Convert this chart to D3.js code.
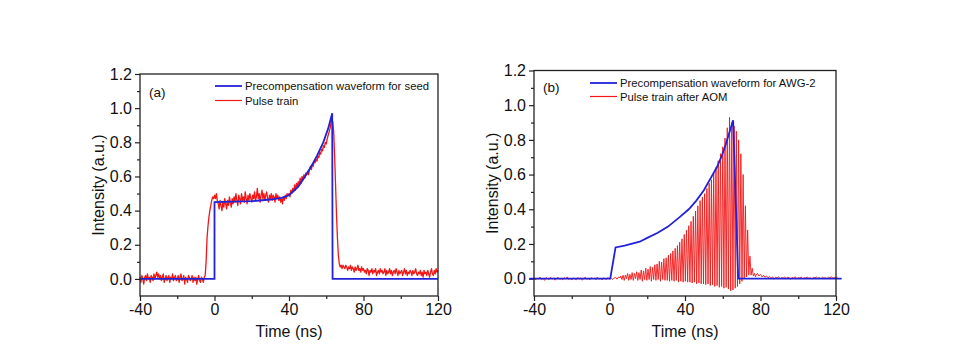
<!DOCTYPE html>
<html>
<head>
<meta charset="utf-8">
<script src="https://cdn.jsdelivr.net/npm/d3@7"></script>
<style>
  body { margin: 0; background: #fff; }
  svg { display: block; font-family: "Liberation Sans", Arial, sans-serif; }
</style>
</head>
<body>
<svg id="chart" width="964" height="354"></svg>
<script>
// ---- datos ----
const xTicks = [-40, 0, 40, 80, 120];
const xMinor = [-20, 20, 60, 100];
const yTicks = [0.0, 0.2, 0.4, 0.6, 0.8, 1.0, 1.2];
const yMinor = [0.1, 0.3, 0.5, 0.7, 0.9, 1.1];

const legendA = ["Precompensation waveform for seed", "Pulse train"];
const legendB = ["Precompensation waveform for AWG-2", "Pulse train after AOM"];

// (a) forma de onda de precompensación (seed)
const seedT = [-40, 0, 0, 20, 30, 36, 40, 45, 48.6, 52, 55, 58.4, 61, 63.2, 63.4, 120];
const seedV = [0, 0, 0.45, 0.455, 0.465, 0.475, 0.49, 0.54, 0.6, 0.66, 0.72, 0.8, 0.88, 0.97, 0, 0];

// (a) tren de pulsos, muestreado cada 0.5 ns desde -40 ns
const trainAStart = -40, trainAStep = 0.5;
const trainA = [
  0.01,-0.02,0.02,0.00,-0.03,0.01,0.02,-0.01,0.03,0.00,0.01,-0.02,0.02,0.01,-0.01,0.03,0.00,0.02,0.04,0.01,
  0.03,0.00,0.02,-0.01,0.01,0.03,-0.02,0.00,0.02,-0.01,0.01,0.02,-0.02,0.01,0.00,0.03,-0.01,0.01,0.02,-0.01,
  0.00,0.02,-0.02,0.01,0.03,-0.01,0.00,0.02,-0.03,0.01,0.00,-0.02,0.02,0.01,-0.01,0.00,0.02,-0.02,0.01,-0.01,
  0.01,-0.03,0.00,0.02,-0.01,-0.02,0.01,0.00,-0.02,0.01,0.02,0.10,0.24,0.31,0.36,0.40,0.43,0.46,0.48,0.47,
  0.49,0.47,0.50,0.46,0.44,0.41,0.46,0.43,0.40,0.45,0.42,0.47,0.44,0.41,0.46,0.43,0.48,0.45,0.42,0.47,
  0.44,0.48,0.45,0.50,0.46,0.43,0.49,0.47,0.44,0.50,0.46,0.48,0.45,0.51,0.47,0.44,0.49,0.46,0.50,0.47,
  0.45,0.49,0.47,0.51,0.46,0.48,0.53,0.47,0.50,0.45,0.49,0.52,0.47,0.50,0.46,0.49,0.51,0.47,0.45,0.49,
  0.47,0.50,0.46,0.49,0.48,0.45,0.50,0.47,0.49,0.46,0.48,0.45,0.47,0.44,0.48,0.46,0.49,0.47,0.50,0.49,
  0.50,0.48,0.52,0.50,0.53,0.51,0.55,0.52,0.56,0.54,0.57,0.55,0.59,0.56,0.60,0.58,0.61,0.59,0.62,0.61,
  0.63,0.61,0.64,0.66,0.64,0.67,0.66,0.69,0.68,0.70,0.69,0.72,0.71,0.74,0.73,0.76,0.75,0.78,0.77,0.80,
  0.79,0.82,0.84,0.86,0.88,0.91,0.93,0.92,0.86,0.72,0.55,0.38,0.24,0.14,0.09,0.07,0.08,0.06,0.08,0.07,
  0.06,0.08,0.07,0.05,0.07,0.06,0.08,0.05,0.07,0.06,0.04,0.07,0.05,0.06,0.08,0.05,0.06,0.04,0.07,0.05,
  0.06,0.04,0.05,0.03,0.06,0.05,0.02,0.05,0.04,0.06,0.03,0.05,0.04,0.06,0.02,0.04,0.05,0.03,0.06,0.04,
  0.05,0.03,0.04,0.06,0.02,0.05,0.03,0.04,0.06,0.03,0.05,0.02,0.04,0.05,0.03,0.06,0.04,0.02,0.05,0.03,
  0.04,0.05,0.02,0.04,0.06,0.03,0.05,0.02,0.04,0.03,0.05,0.04,0.02,0.05,0.03,0.04,0.06,0.03,0.02,0.04,
  0.03,0.05,0.02,0.04,0.01,0.05,0.03,0.04,0.02,0.05,0.03,0.01,0.04,0.06,0.03,0.02,0.05,0.03,0.06,0.04,
  0.05
];

// (b) forma de onda de precompensación (AWG-2)
const awgT = [-42.5, 0.4, 3.2, 8, 16, 20, 25.6, 31, 37, 42, 46, 50, 54, 57, 59.2, 61.5, 63.3, 65.5, 68.2, 123];
const awgV = [0, 0, 0.18, 0.19, 0.213, 0.235, 0.265, 0.3, 0.353, 0.4, 0.45, 0.51, 0.587, 0.645, 0.70, 0.77, 0.836, 0.913, 0, 0];

// (b) tren de pulsos tras el AOM: línea base antes, pulsos (pico / valle), línea base después
const baseStep = 0.8;
const preStart = -40;
const preB = [
  0.005,-0.008,0.004,-0.003,0.009,-0.006,0.002,-0.01,0.006,0.0,
  -0.005,0.008,-0.002,0.004,-0.009,0.003,0.007,-0.004,0.001,-0.007,
  0.006,-0.002,0.01,-0.005,0.003,-0.008,0.004,0.0,-0.006,0.007,
  -0.003,0.005,-0.009,0.002,0.008,-0.004,0.003,-0.007,0.006,-0.001,
  0.004,-0.006,0.009,-0.003,0.002,-0.008,0.005,0.0,-0.004,0.007,
  -0.002,0.006,-0.005,0.003,0.008,-0.003,0.01,0.004
];
const pulseStart = 6.0, pulsePeriod = 1.2;
const pulsePeak = [
  0.015,0.02,0.02,0.03,0.025,0.035,0.03,0.04,0.035,0.05,
  0.045,0.06,0.055,0.07,0.065,0.08,0.085,0.1,0.095,0.115,
  0.12,0.135,0.145,0.16,0.175,0.19,0.21,0.23,0.255,0.28,
  0.305,0.33,0.36,0.39,0.42,0.45,0.47,0.49,0.52,0.55,
  0.57,0.61,0.64,0.68,0.72,0.76,0.81,0.87,0.93,0.9,
  0.88,0.85,0.8,0.72,0.6,0.42,0.28,0.13,0.06,0.03
];
const pulseTrough = [
  -0.005,-0.01,0.0,-0.01,-0.005,-0.01,0.0,-0.01,-0.005,-0.015,
  -0.005,-0.01,-0.005,-0.015,-0.005,-0.01,-0.005,-0.015,-0.005,-0.01,
  -0.01,-0.015,-0.01,-0.015,-0.01,-0.02,-0.015,-0.02,-0.015,-0.02,
  -0.02,-0.025,-0.02,-0.03,-0.025,-0.03,-0.03,-0.035,-0.03,-0.04,
  -0.035,-0.045,-0.04,-0.05,-0.045,-0.055,-0.05,-0.06,-0.07,-0.065,
  -0.055,-0.045,-0.03,-0.015,0.0,0.01,0.02,0.02,0.015,0.01
];
const postStart = 77.6;
const postB = [
  0.02,0.03,0.015,0.025,0.01,0.02,0.008,0.015,0.005,0.012,
  0.002,0.01,-0.003,0.008,0.004,0.011,-0.002,0.007,0.003,0.01,
  0.0,0.009,0.005,-0.003,0.008,0.002,0.011,-0.001,0.006,0.004,
  0.009,-0.002,0.007,0.003,0.01,0.001,0.006,-0.003,0.008,0.004,
  0.01,0.002,0.007,-0.001,0.009,0.003,0.006,0.0,0.008,0.005,
  0.011,0.002,0.007,0.004,0.009
];

// ---- armado de las series ----
const seedPts = seedT.map((t, i) => [t, seedV[i]]);
const trainAPts = trainA.map((v, i) => [trainAStart + i * trainAStep, v]);
const awgPts = awgT.map((t, i) => [t, awgV[i]]);
const trainBPts = [];
preB.forEach((v, i) => trainBPts.push([preStart + i * baseStep, v]));
pulsePeak.forEach((p, i) => {
  const t = pulseStart + i * pulsePeriod;
  trainBPts.push([t, p]);
  trainBPts.push([t + pulsePeriod / 2, pulseTrough[i]]);
});
postB.forEach((v, i) => trainBPts.push([postStart + i * baseStep, v]));

const BLUE = "#2222d8", RED = "#f21616", INK = "#222";
const svg = d3.select("#chart");

function dibujarPanel(cfg) {
  const x = d3.scaleLinear().domain([-40, 120]).range([cfg.left, cfg.right]);
  const y = d3.scaleLinear().domain([-0.1, 1.2]).range([cfg.bottom, cfg.top]);
  const g = svg.append("g");

  // ejes con marcas mayores y menores
  g.append("g").attr("transform", `translate(0,${cfg.bottom})`)
    .call(d3.axisBottom(x).tickValues(xTicks).tickSize(5).tickSizeOuter(0).tickPadding(3).tickFormat(d => String(d)));
  g.append("g").attr("transform", `translate(0,${cfg.bottom})`)
    .call(d3.axisBottom(x).tickValues(xMinor).tickSize(3).tickSizeOuter(0).tickFormat(""));
  g.append("g").attr("transform", `translate(${cfg.left},0)`)
    .call(d3.axisLeft(y).tickValues(yTicks).tickSize(5).tickSizeOuter(0).tickPadding(3).tickFormat(d => d.toFixed(1)));
  g.append("g").attr("transform", `translate(${cfg.left},0)`)
    .call(d3.axisLeft(y).tickValues(yMinor).tickSize(3).tickSizeOuter(0).tickFormat(""));
  g.selectAll(".domain").remove();
  g.selectAll(".tick line").attr("stroke", INK).attr("stroke-width", 1.2);
  g.selectAll(".tick text").attr("fill", "#111").style("font-size", "16px")
    .style("font-family", '"Liberation Sans", Arial, sans-serif');

  // series
  const line = d3.line().x(d => x(d[0])).y(d => y(d[1]));
  g.append("path").datum(cfg.red).attr("d", line)
    .attr("fill", "none").attr("stroke", RED).attr("stroke-width", cfg.redWidth)
    .attr("stroke-linejoin", "round");
  g.append("path").datum(cfg.blue).attr("d", line)
    .attr("fill", "none").attr("stroke", BLUE).attr("stroke-width", 1.8);

  // marco
  g.append("rect").attr("x", cfg.left).attr("y", cfg.top)
    .attr("width", cfg.right - cfg.left).attr("height", cfg.bottom - cfg.top)
    .attr("fill", "none").attr("stroke", INK).attr("stroke-width", 1.3);

  // leyenda
  const lx = cfg.legendX;
  [BLUE, RED].forEach((c, i) => {
    const ly = cfg.legendY + i * cfg.legendGap;
    g.append("line").attr("x1", lx).attr("x2", lx + 27).attr("y1", ly).attr("y2", ly)
      .attr("stroke", c).attr("stroke-width", i === 0 ? 1.8 : 1.2);
    g.append("text").attr("x", lx + 30).attr("y", ly + 4)
      .style("font-size", "11.3px").attr("fill", "#111").text(cfg.legend[i]);
  });

  g.append("text").attr("x", cfg.left + 9).attr("y", cfg.labelY)
    .style("font-size", "13.5px").attr("fill", "#111").text(cfg.label);

  // títulos
  g.append("text").attr("x", (cfg.left + cfg.right) / 2).attr("y", 337)
    .attr("text-anchor", "middle").style("font-size", "16px").attr("fill", "#111").text("Time (ns)");
  g.append("text")
    .attr("transform", `translate(${cfg.left - 42},${(cfg.top + cfg.bottom) / 2}) rotate(-90)`)
    .attr("text-anchor", "middle").attr("dy", "0.35em")
    .style("font-size", "16px").attr("fill", "#111").text("Intensity (a.u.)");
}

dibujarPanel({
  left: 140, right: 438, top: 74, bottom: 296,
  blue: seedPts, red: trainAPts, redWidth: 1.3,
  legend: legendA, legendX: 215, legendY: 86, legendGap: 14.5,
  label: "(a)", labelY: 97
});
dibujarPanel({
  left: 534, right: 836, top: 70.5, bottom: 296,
  blue: awgPts, red: trainBPts, redWidth: 0.9,
  legend: legendB, legendX: 590, legendY: 83, legendGap: 13.5,
  label: "(b)", labelY: 92
});
</script>
</body>
</html>
